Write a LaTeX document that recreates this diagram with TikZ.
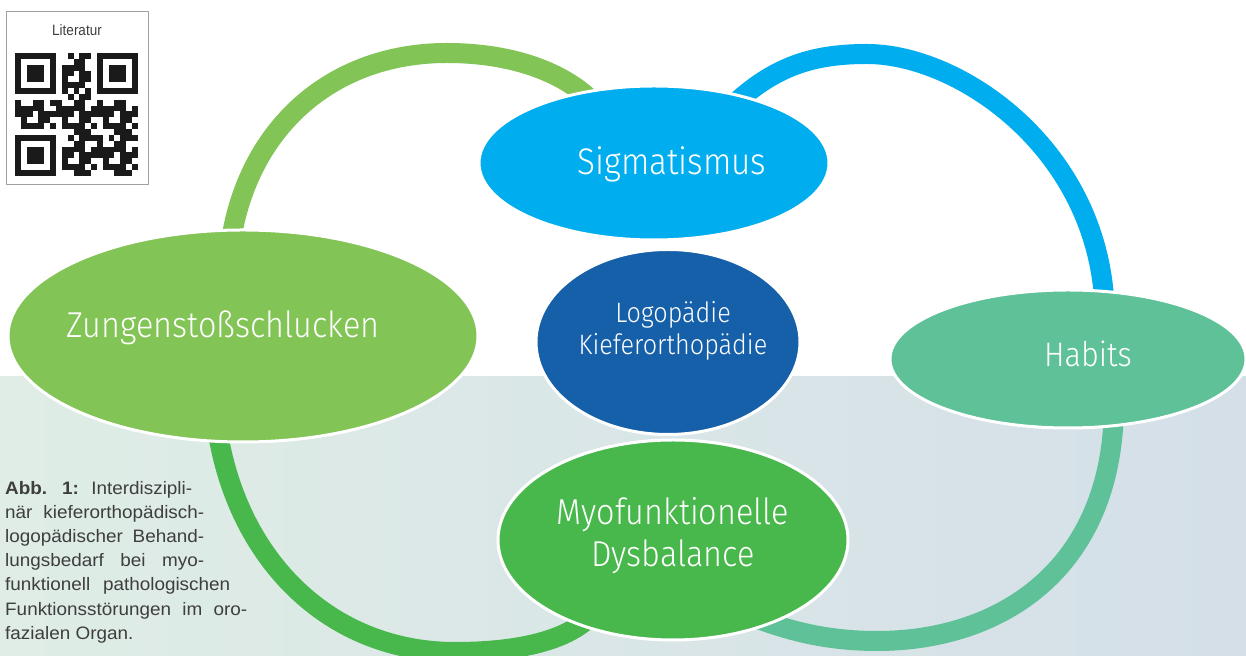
\documentclass[tikz,border=0pt]{standalone}
\usepackage{fontspec}
\usetikzlibrary{shapes.geometric}
\newfontfamily\bubblefont{Fira Sans}[UprightFont=* Light,FakeStretch=0.9]
\newfontfamily\captionfont{Liberation Sans}[FakeStretch=1.05]
\newfontfamily\qrfont{Liberation Sans}[FakeStretch=0.9]
\definecolor{BubbleLime}{RGB}{130,196,85}
\definecolor{BubbleCyan}{RGB}{0,174,239}
\definecolor{BubbleNavy}{RGB}{22,96,170}
\definecolor{BubbleTeal}{RGB}{94,193,152}
\definecolor{BubbleGreen}{RGB}{72,183,76}
\definecolor{BgLeft}{RGB}{223,237,230}
\definecolor{BgRight}{RGB}{212,223,232}
\definecolor{CaptionGray}{RGB}{62,62,62}
\definecolor{FrameGray}{RGB}{160,160,160}
\definecolor{QrBlack}{RGB}{26,26,26}
\pgfdeclarelayer{bg}
\pgfdeclarelayer{arcs}
\pgfsetlayers{bg,arcs,main}

\begin{document}
\begin{tikzpicture}[x=1bp,y=1bp,line join=round]
  \path[use as bounding box] (0,0) rectangle (1246,656);
  \begin{pgfonlayer}{bg}
    \fill[white] (0,0) rectangle (1246,656);
    \shade[left color=BgLeft,right color=BgRight] (0,0) rectangle (1246,279);
  \end{pgfonlayer}

  \tikzset{
    bubble/.style={ellipse,draw=white,line width=3bp,inner sep=0pt},
    bubbletext/.style={anchor=base,inner sep=0pt,text=white},
    band/.style={line width=20bp,line cap=butt},
    captionline/.style={anchor=base west,inner sep=0pt,text=CaptionGray,
      font=\captionfont\fontsize{18bp}{18bp}\selectfont},
  }

  % ==================== BUBBLES ====================
  \node[bubble,fill=BubbleCyan,minimum width=350bp,minimum height=154bp] (sig) at (654,493) {};
  \node[bubble,fill=BubbleLime,minimum width=470bp,minimum height=212bp] (zung) at (243,320) {};
  \node[bubble,fill=BubbleTeal,minimum width=356bp,minimum height=138bp] (hab) at (1068,297) {};
  \node[bubble,fill=BubbleNavy,minimum width=264bp,minimum height=185bp] (logo) at (668,314) {};
  \node[bubble,fill=BubbleGreen,minimum width=350bp,minimum height=200bp] (myo) at (673,116) {};

  % Bubble labels
  \node[bubbletext,font=\bubblefont\fontsize{37bp}{37bp}\selectfont] (sigtext) at ([xshift=18bp,yshift=-12bp]sig.center) {Sigmatismus};
  \node[bubbletext,font=\bubblefont\fontsize{36bp}{36bp}\selectfont] (zungtext) at ([xshift=-20bp,yshift=-2bp]zung.center) {Zungenstoßschlucken};
  \node[bubbletext,font=\bubblefont\fontsize{34bp}{34bp}\selectfont] (habtext) at ([xshift=20bp,yshift=-8bp]hab.center) {Habits};
  \node[bubbletext,font=\bubblefont\fontsize{28bp}{28bp}\selectfont] (logotextA) at ([xshift=5bp,yshift=19bp]logo.center) {Logopädie};
  \node[bubbletext,font=\bubblefont\fontsize{28bp}{28bp}\selectfont] (logotextB) at ([xshift=5bp,yshift=-13bp]logo.center) {Kieferorthopädie};
  \node[bubbletext,font=\bubblefont\fontsize{36bp}{36bp}\selectfont] (myotextA) at ([yshift=15bp]myo.center) {Myofunktionelle};
  \node[bubbletext,font=\bubblefont\fontsize{36bp}{36bp}\selectfont] (myotextB) at ([yshift=-27bp]myo.center) {Dysbalance};

  % ==================== LOOP BANDS ====================
  \begin{pgfonlayer}{arcs}
    \draw[band,BubbleLime] ([yshift=-20bp]zung.97) .. controls (245,526) and (330,603) .. (447,603)
      .. controls (510,603) and (565,585) .. ([shift={(15,-15)}]sig.135);
    \draw[band,BubbleCyan] ([shift={(-10,-12)}]sig.38) .. controls (775,591) and (815,602) .. (867,602)
      .. controls (960,602) and (1100,506) .. ([yshift=-20bp]hab.62);
    \draw[band,BubbleGreen] ([yshift=20bp]zung.256) .. controls (235,96) and (330,4) .. (455,4)
      .. controls (520,4) and (570,16) .. ([shift={(15,12)}]myo.222);
    \draw[band,BubbleTeal] ([yshift=20bp]hab.304) .. controls (1112,86) and (1000,15) .. (877,15)
      .. controls (830,15) and (790,24) .. ([shift={(-15,12)}]myo.316);
  \end{pgfonlayer}

  % ==================== CAPTION ====================
  \node[captionline] (capA) at (5,161) {\makebox[187bp][s]{\textbf{Abb. 1:} Interdiszipli-}};
  \foreach \name/\ypos/\capwd/\txt in {capB/137/199/när kieferorthopädisch-,
      capC/113/199/logopädischer Behand-,capD/89/199/lungsbedarf bei myo-,
      capE/65/225/funktionell pathologischen,capF/40/242/Funktionsstörungen im oro-} {
    \node[captionline] (\name) at (5,\ypos) {\makebox[\capwd bp][s]{\txt}};
  }
  \node[captionline] (capG) at (5,16) {fazialen Organ.};

  % ==================== QR CODE ====================
  \draw[FrameGray,line width=1bp] (6,471) rectangle (148,644);
  \node[anchor=base,inner sep=0pt,text=CaptionGray,font=\qrfont\fontsize{15bp}{15bp}\selectfont] (qrlabel) at (77,620) {Literatur};

  % finder patterns
  \foreach \fr/\fc in {0/0,0/14,14/0} {
    \fill[QrBlack] ({15+\fc*5.85},{603-\fr*5.85}) rectangle ++(40.95,-40.95);
    \fill[white] ({15+(\fc+1)*5.85},{603-(\fr+1)*5.85}) rectangle ++(29.25,-29.25);
    \fill[QrBlack] ({15+(\fc+2)*5.85},{603-(\fr+2)*5.85}) rectangle ++(17.55,-17.55);
  }
  % data modules
  \foreach \r in {0,...,20} {
    \foreach \c in {0,...,20} {
      \pgfmathtruncatemacro{\qrskip}{((\r<8)&&(\c<8))||((\r<8)&&(\c>12))||((\r>12)&&(\c<8))}
      \pgfmathtruncatemacro{\qrbit}{ifthenelse((\r==6)||(\c==6),1-mod(\r+\c,2),mod(7*\r*\r+3*\c*\c+5*\r*\c+\r+2*\c,7)<4)}
      \ifnum\qrskip=0 \ifnum\qrbit=1
        \fill[QrBlack] ({15+\c*5.85},{603-\r*5.85}) rectangle ++(5.85,-5.85);
      \fi\fi
    }
  }
\end{tikzpicture}
\end{document}
